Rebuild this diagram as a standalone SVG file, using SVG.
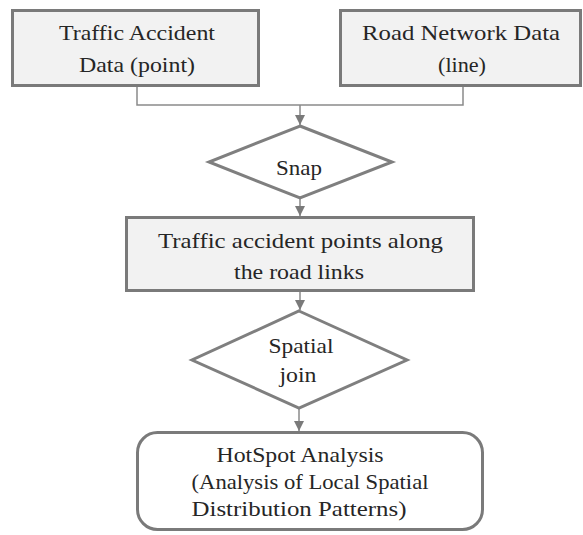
<svg xmlns="http://www.w3.org/2000/svg" width="583" height="535" viewBox="0 0 583 535">
  <defs>
    <style>
      .box { fill: #f2f2f2; stroke: #7a7a7a; stroke-width: 3; }
      .term { fill: #ffffff; stroke: #7a7a7a; stroke-width: 3; }
      .dia { fill: #ffffff; stroke: #7f7f7f; stroke-width: 3; stroke-linejoin: miter; }
      .lbl { font-family: "Liberation Serif", "Times New Roman", serif; font-size: 21.5px; fill: #262626; text-anchor: middle; }
      .conn { fill: none; stroke: #8a8a8a; stroke-width: 1.5; }
    </style>
    <marker id="arrow" markerUnits="userSpaceOnUse" markerWidth="10" markerHeight="11" refX="10" refY="5" orient="auto">
      <path d="M0,0 L10,5 L0,10 Z" fill="#7a7a7a"/>
    </marker>
  </defs>
  <rect width="583" height="535" fill="#ffffff"/>

  <g id="connectors">
    <polyline class="conn" points="137,86 137,105 463,105 463,86"/>
    <line class="conn" x1="300" y1="105" x2="300" y2="125" marker-end="url(#arrow)"/>
    <line class="conn" x1="300" y1="199" x2="300" y2="216" marker-end="url(#arrow)"/>
    <line class="conn" x1="300" y1="291" x2="300" y2="310" marker-end="url(#arrow)"/>
    <line class="conn" x1="299" y1="409" x2="299" y2="431" marker-end="url(#arrow)"/>
  </g>

  <g id="node-accident">
    <rect class="box" x="12.5" y="10.5" width="246" height="75"/>
    <text class="lbl" x="137" y="40" textLength="156" lengthAdjust="spacingAndGlyphs">Traffic  Accident</text>
    <text class="lbl" x="137" y="72" textLength="116" lengthAdjust="spacingAndGlyphs">Data (point)</text>
  </g>

  <g id="node-road">
    <rect class="box" x="340.5" y="10.5" width="240" height="75"/>
    <text class="lbl" x="461" y="40" textLength="198" lengthAdjust="spacingAndGlyphs">Road Network Data</text>
    <text class="lbl" x="462" y="72" textLength="48" lengthAdjust="spacingAndGlyphs">(line)</text>
  </g>

  <g id="node-snap">
    <polygon class="dia" points="300,126 392,162 300,198 209,162"/>
    <text class="lbl" x="299" y="175" textLength="46" lengthAdjust="spacingAndGlyphs">Snap</text>
  </g>

  <g id="node-points">
    <rect class="box" x="126.5" y="217.5" width="347" height="73"/>
    <text class="lbl" x="300.5" y="248" textLength="285" lengthAdjust="spacingAndGlyphs">Traffic  accident  points  along</text>
    <text class="lbl" x="299" y="279" textLength="130" lengthAdjust="spacingAndGlyphs">the  road  links</text>
  </g>

  <g id="node-join">
    <polygon class="dia" points="299,311 407,360 299,408 192,360"/>
    <text class="lbl" x="301" y="353" textLength="65" lengthAdjust="spacingAndGlyphs">Spatial</text>
    <text class="lbl" x="298" y="382" textLength="37" lengthAdjust="spacingAndGlyphs">join</text>
  </g>

  <g id="node-hotspot">
    <rect class="term" x="137.5" y="432.5" width="345" height="97" rx="20" ry="20"/>
    <text class="lbl" x="300" y="462" textLength="167" lengthAdjust="spacingAndGlyphs">HotSpot Analysis</text>
    <text class="lbl" x="310" y="489" textLength="237" lengthAdjust="spacingAndGlyphs">(Analysis  of Local Spatial</text>
    <text class="lbl" x="299" y="516" textLength="215" lengthAdjust="spacingAndGlyphs">Distribution  Patterns)</text>
  </g>
</svg>
